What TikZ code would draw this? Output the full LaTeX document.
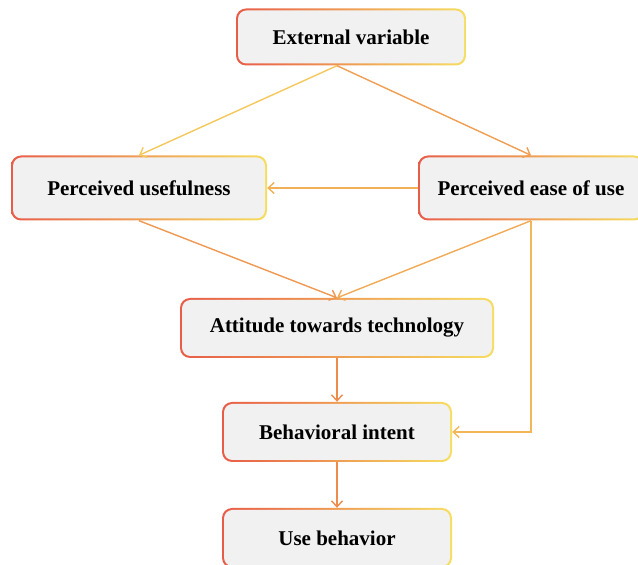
\documentclass[tikz,border=0pt]{standalone}
\usepackage{fontspec}
\setmainfont{Liberation Serif}
\usetikzlibrary{arrows.meta}

\definecolor{boxred}{RGB}{232,92,72}
\definecolor{boxyellow}{RGB}{246,222,96}
\definecolor{boxfill}{RGB}{241,241,241}
\definecolor{lineorange}{RGB}{238,140,78}
\definecolor{lineyellow}{RGB}{244,200,92}

\tikzset{
  tambox/.style={rounded corners=10pt, left color=boxred, right color=boxyellow,
    font=\fontsize{21}{25}\selectfont\bfseries, text=black, inner sep=0pt,
    path picture={\fill[boxfill, rounded corners=8.5pt]
      ([shift={(2pt,2pt)}]path picture bounding box.south west) rectangle
      ([shift={(-2pt,-2pt)}]path picture bounding box.north east);}},
  link/.style={line width=1.4pt, -{Straight Barb[length=6pt,width=11pt]}}
}

\begin{document}
\begin{tikzpicture}[x=1pt, y=1pt]
      \useasboundingbox (0,0) rectangle (638,565);
      % boxes
      \node[tambox, minimum width=230pt, minimum height=57pt] (ev) at (351,528) {External variable};
      \node[tambox, minimum width=256pt, minimum height=65pt] (pu) at (139,377) {Perceived usefulness};
      \node[tambox, minimum width=226pt, minimum height=65pt] (peu) at (531,377) {Perceived ease of use};
      \node[tambox, minimum width=314pt, minimum height=60pt] (att) at (337,237) {Attitude towards technology};
      \node[tambox, minimum width=230pt, minimum height=60pt] (bi) at (337,133) {Behavioral intent};
      \node[tambox, minimum width=230pt, minimum height=60pt] (ub) at (337,27) {Use behavior};
      \coordinate (evfoot) at ([xshift=-14pt]ev.south);
      % connectors
      \draw[link, lineyellow] (evfoot) -- (pu.north);
      \draw[link, lineorange!70!lineyellow] (evfoot) -- (peu.north);
      \draw[link, lineorange!40!lineyellow] (peu.west) -- (pu.east);
      \draw[link, lineorange!80!lineyellow] (pu.south) -- (att.north);
      \draw[link, lineorange!50!lineyellow] (peu.south) -- (att.north);
      \draw[link, lineorange!30!lineyellow] (peu.south) |- (bi.east);
      \draw[link, lineorange] (att.south) -- (bi.north);
      \draw[link, lineorange] (bi.south) -- (ub.north);
    \end{tikzpicture}
\end{document}
